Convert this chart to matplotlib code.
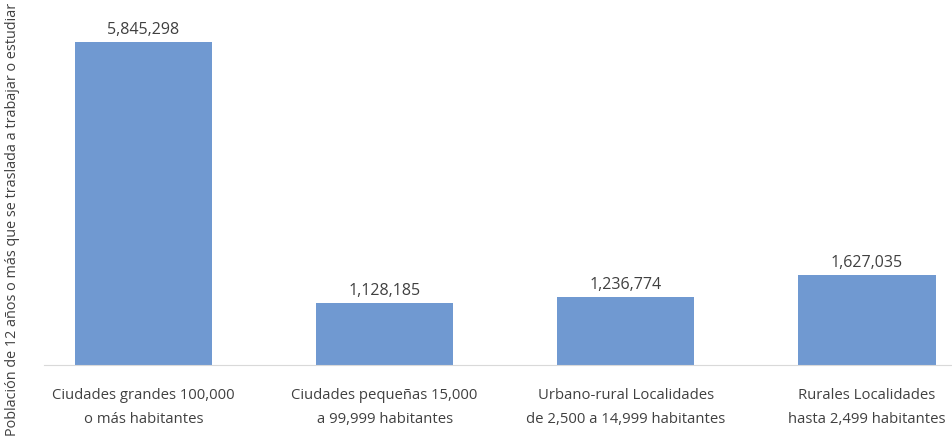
import matplotlib.pyplot as plt

plt.rcParams['font.family'] = ['Open Sans', 'DejaVu Sans']

categorias = ["Ciudades grandes 100,000\no más habitantes",
              "Ciudades pequeñas 15,000\na 99,999 habitantes",
              "Urbano-rural Localidades\nde 2,500 a 14,999 habitantes",
              "Rurales Localidades\nhasta 2,499 habitantes"]
poblacion = [5845298, 1128185, 1236774, 1627035]
ylabel = "Población de 12 años o más que se traslada a trabajar o estudiar"

texto = "#404040"

fig = plt.figure(figsize=(9.52, 4.39), dpi=100)
ax = fig.add_axes([0.0462, 0.1663, 0.9538, 0.811])

x = range(len(categorias))
bars = ax.bar(x, poblacion, width=0.57, color="#7099D1")

for b, v in zip(bars, poblacion):
    ax.annotate(f"{v:,}", (b.get_x() + b.get_width() / 2, v),
                xytext=(0, 3.5), textcoords="offset points",
                ha="center", va="bottom", fontsize=11.5, color=texto)

ax.set_xlim(-0.413, 3.353)
ax.set_ylim(0, 6442500)
ax.set_xticks(list(x))
ax.set_xticklabels(categorias, fontsize=10.7, color=texto, linespacing=1.8)
ax.tick_params(axis="x", length=0, pad=16)
ax.set_yticks([])

for s in ["top", "right", "left"]:
    ax.spines[s].set_visible(False)
ax.spines["bottom"].set_color("#D9D9D9")

fig.text(0.013, 0.5, ylabel, rotation=90, ha="center", va="center",
         fontsize=10.4, color=texto)

fig.savefig("out.png", dpi=100)
